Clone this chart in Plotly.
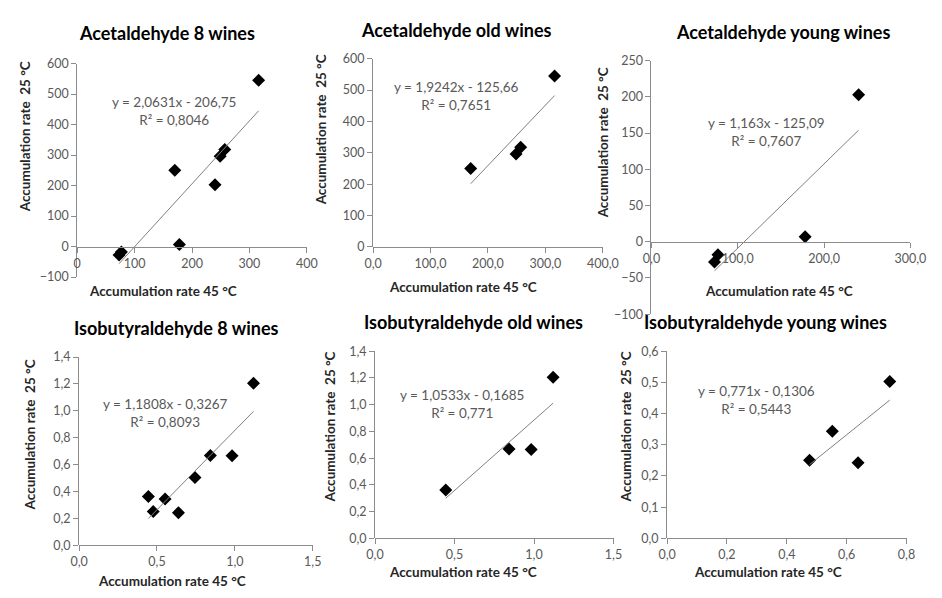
import plotly.graph_objects as go

W, H = 942, 598

# ---------------- data ----------------
acet_young_x = [73, 77, 178, 240]
acet_young_y = [-28, -18, 7, 203]
acet_old_x = [170, 249, 257, 316]
acet_old_y = [250, 296, 318, 545]
acet_all_x = acet_young_x + acet_old_x
acet_all_y = acet_young_y + acet_old_y

iso_young_x = [0.476, 0.552, 0.638, 0.744]
iso_young_y = [0.250, 0.343, 0.242, 0.503]
iso_old_x = [0.445, 0.843, 0.982, 1.120]
iso_old_y = [0.362, 0.668, 0.665, 1.205]
iso_all_x = iso_young_x + iso_old_x
iso_all_y = iso_young_y + iso_old_y

titles = ["Acetaldehyde 8 wines", "Acetaldehyde old wines", "Acetaldehyde young wines",
          "Isobutyraldehyde 8 wines", "Isobutyraldehyde old wines", "Isobutyraldehyde young wines"]
slopes = [2.0631, 1.9242, 1.163, 1.1808, 1.0533, 0.771]
intercepts = [-206.75, -125.66, -125.09, -0.3267, -0.1685, -0.1306]
eq_texts = ["y = 2,0631x - 206,75", "y = 1,9242x - 125,66", "y = 1,163x - 125,09",
            "y = 1,1808x - 0,3267", "y = 1,0533x - 0,1685", "y = 0,771x - 0,1306"]
r2_texts = ["R² = 0,8046", "R² = 0,7651", "R² = 0,7607",
            "R² = 0,8093", "R² = 0,771", "R² = 0,5443"]
x_title = "Accumulation rate 45 °C"
y_title = "Accumulation rate  25 °C"

x_ranges = [[0, 400], [0, 400], [0, 300], [0, 1.5], [0, 1.5], [0, 0.8]]
y_ranges = [[-100, 600], [0, 600], [-100, 250], [0, 1.4], [0, 1.4], [0, 0.6]]
x_dticks = [100, 100, 100, 0.5, 0.5, 0.2]
y_dticks = [100, 100, 50, 0.2, 0.2, 0.1]
x_formats = ["d", ".1f", ".1f", ".1f", ".1f", ".1f"]
y_formats = ["d", "d", "d", ".1f", ".1f", ".1f"]

series_x = [acet_all_x, acet_old_x, acet_young_x, iso_all_x, iso_old_x, iso_young_x]
series_y = [acet_all_y, acet_old_y, acet_young_y, iso_all_y, iso_old_y, iso_young_y]

# ---------------- layout (pixel boxes of each plot area) ----------------
boxes = [  # left, right, top, bottom (pixels)
    (70, 306, 57, 276),
    (374, 610, 52, 245),
    (660, 926, 54, 314),
    (72, 312, 358, 551),
    (376, 621, 352, 544),
    (676, 922, 352, 544),
]
title_pos = [(162, 26), (460, 23), (795, 25), (172, 328), (477, 322), (777, 322)]
xt_pos = [(158, 290), (466, 286), (791, 290), (167, 588), (466, 578), (780, 578)]
yt_pos = [(16, 132), (320, 125), (610, 138), (22, 438), (330, 430), (634, 430)]
eq_pos = [(170, 95), (460, 80), (778, 117), (161, 405), (465, 396), (768, 392)]

GRAY = "#595959"
AXC = "#8c8c8c"
FONT = "Lato"

fig = go.Figure()
annotations = []
layout = dict(
    width=W, height=H, margin=dict(l=0, r=0, t=0, b=0),
    paper_bgcolor="white", plot_bgcolor="white", showlegend=False,
    separators=", ", font=dict(family=FONT, color=GRAY),
)

for i in range(6):
    n = "" if i == 0 else str(i + 1)
    xa, ya = "x" + n, "y" + n
    l, r, t, b = boxes[i]
    ydom = [1 - b / H, 1 - t / H]
    xdom = [l / W, r / W]
    y0, y1 = y_ranges[i]
    zero_pos = ydom[0] + (0 - y0) / (y1 - y0) * (ydom[1] - ydom[0])

    xs, ys = series_x[i], series_y[i]
    fig.add_trace(go.Scatter(x=xs, y=ys, mode="markers", xaxis=xa, yaxis=ya,
                             marker=dict(symbol="diamond", size=10, color="black")))
    lx = [min(xs), max(xs)]
    ly = [slopes[i] * v + intercepts[i] for v in lx]
    fig.add_trace(go.Scatter(x=lx, y=ly, mode="lines", xaxis=xa, yaxis=ya,
                             line=dict(color="#7f7f7f", width=1)))

    layout["xaxis" + n] = dict(
        domain=xdom, range=x_ranges[i], anchor="free", position=zero_pos,
        dtick=x_dticks[i], tick0=0, tickformat=x_formats[i],
        showgrid=False, zeroline=False, showline=True, linecolor=AXC, linewidth=1,
        ticks="outside", ticklen=5, tickcolor=AXC,
        tickfont=dict(family=FONT, size=12.5, color=GRAY),
    )
    layout["yaxis" + n] = dict(
        domain=ydom, range=y_ranges[i], anchor=xa,
        dtick=y_dticks[i], tick0=0, tickformat=y_formats[i],
        showgrid=False, zeroline=False, showline=True, linecolor=AXC, linewidth=1,
        ticks="outside", ticklen=5, tickcolor=AXC,
        tickfont=dict(family=FONT, size=12.5, color=GRAY),
    )

    tx, ty = title_pos[i]
    annotations.append(dict(text="<b>" + titles[i] + "</b>", x=tx / W, y=1 - ty / H,
                            xref="paper", yref="paper", showarrow=False,
                            xanchor="center", yanchor="middle",
                            font=dict(family=FONT, size=18, color="black")))
    px_, py_ = xt_pos[i]
    annotations.append(dict(text="<b>" + x_title + "</b>", x=px_ / W, y=1 - py_ / H,
                            xref="paper", yref="paper", showarrow=False,
                            xanchor="center", yanchor="middle",
                            font=dict(family=FONT, size=13.5, color="#262626")))
    qx, qy = yt_pos[i]
    annotations.append(dict(text="<b>" + y_title + "</b>", x=qx / W, y=1 - qy / H,
                            xref="paper", yref="paper", showarrow=False, textangle=-90,
                            xanchor="center", yanchor="middle",
                            font=dict(family=FONT, size=13.5, color="#262626")))
    ex, ey = eq_pos[i]
    annotations.append(dict(text=eq_texts[i] + "<br>" + r2_texts[i],
                            x=ex / W, y=1 - (ey - 9) / H,
                            xref="paper", yref="paper", showarrow=False, align="center",
                            xanchor="center", yanchor="top",
                            font=dict(family=FONT, size=13.5, color=GRAY)))

layout["annotations"] = annotations
fig.update_layout(**layout)
fig.write_html("out.html")
